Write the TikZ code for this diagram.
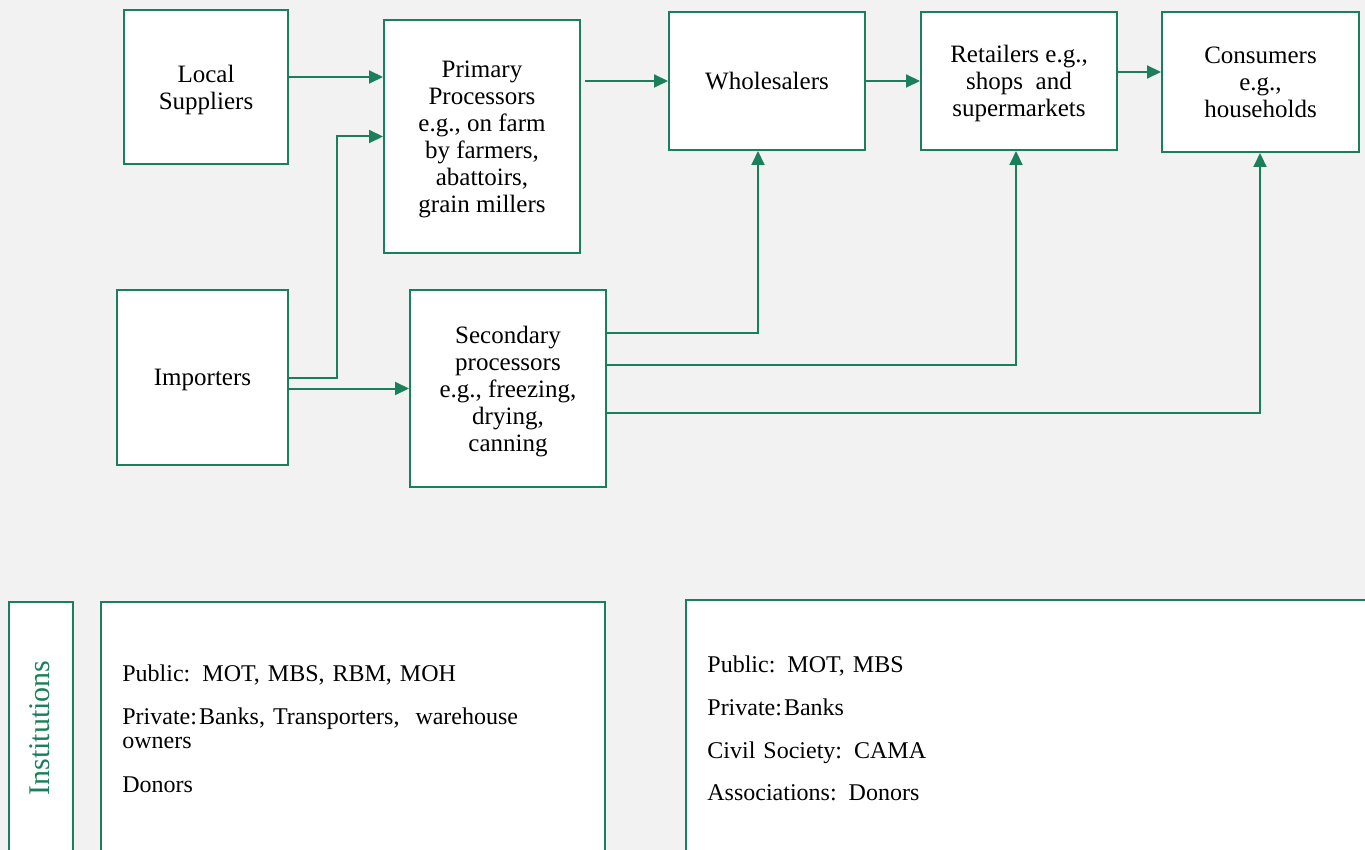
\documentclass[tikz,border=0pt]{standalone}
\usepackage{fontspec}
\setmainfont{Liberation Serif}
\usetikzlibrary{arrows.meta,positioning}
\definecolor{chaingreen}{HTML}{1B7F5B}
\definecolor{bggray}{HTML}{F2F2F2}

\begin{document}
\begin{tikzpicture}[x=0.5pt,y=-0.5pt,
  box/.style={draw=chaingreen,line width=1pt,fill=white,align=center,inner sep=2pt,font=\fontsize{12.5}{13.5}\selectfont,text depth=-5pt},
  flow/.style={draw=chaingreen,line width=1pt,-{Triangle[length=7pt,width=6.5pt]}},
  inst/.style={draw=chaingreen,line width=1pt,fill=white,anchor=north west,inner sep=0pt},
  item/.style={anchor=base west,inner sep=0pt,text width=250pt,align=left,font=\fontsize{12}{12}\selectfont}]
\fill[bggray] (0,0) rectangle (1365,850);
\useasboundingbox (0,0) rectangle (1365,850);
\clip (0,0) rectangle (1365,850);

\node[box,minimum width=82pt,minimum height=77pt] (ls) at (206,87) {Local\\Suppliers};
\node[box,minimum width=98pt,minimum height=116.5pt] (pp) at (482,136.5) {Primary\\Processors\\e.g., on farm\\by farmers,\\abattoirs,\\grain millers};
\node[box,minimum width=98pt,minimum height=69pt,text depth=0pt] (wh) at (767,81) {Wholesalers};
\node[box,minimum width=98pt,minimum height=69pt] (rt) at (1019,81) {Retailers e.g.,\\shops\ \ and\\supermarkets};
\node[box,minimum width=98.5pt,minimum height=70pt] (cs) at (1260.5,82) {Consumers\\e.g.,\\households};
\node[box,minimum width=85.5pt,minimum height=87.5pt] (im) at (202.5,377.5) {Importers};
\node[box,minimum width=98pt,minimum height=98.5pt] (sp) at (508,388.5) {Secondary\\processors\\e.g., freezing,\\drying,\\canning};

\draw[flow] ([yshift=5pt]ls.east) -- ([yshift=5pt]ls.east -| pp.west);
\draw[flow] (im.east) -- ++(48,0) |- (pp.west);
\draw[flow] (im.east |- sp.west) -- (sp.west);
\draw[flow] ([xshift=2pt]pp.east |- wh.west) -- (wh.west);
\draw[flow] (wh.east) -- (rt.west);
\draw[flow] ([yshift=4.5pt]rt.east) -- ([yshift=4.5pt]rt.east -| cs.west);
\draw[flow] ([yshift=28pt]sp.east) -| ([xshift=-4.5pt]wh.south);
\draw[flow] ([yshift=12pt]sp.east) -| ([xshift=-1.5pt]rt.south);
\draw[flow] ([yshift=-12pt]sp.east) -| ([xshift=-0.25pt]cs.south);

\node[inst,minimum width=32pt,minimum height=150pt] (label) at (8,601) {};
\node[rotate=90,text=chaingreen,font=\fontsize{15}{15}\selectfont] (labeltext) at (40,728) {Institutions};
\node[inst,minimum width=252pt,minimum height=150pt] (left) at (100,601) {};
\node[inst,minimum width=360pt,minimum height=150pt] (right) at (685,599) {};

\node[item] (lpub) at (122,681) {Public: MOT, MBS, RBM, MOH};
\node[item] (lpriv) at (122,724) {Private:\kern1pt Banks, Transporters,\ \ warehouse\\owners};
\node[item] (ldon) at (122,792) {Donors};
\node[item] (rpub) at (707,672) {Public: MOT, MBS};
\node[item] (rpriv) at (707,715) {Private:\kern1pt Banks};
\node[item] (rciv) at (707,758) {Civil Society: CAMA};
\node[item] (rass) at (707,800) {Associations: Donors};
\end{tikzpicture}
\end{document}
